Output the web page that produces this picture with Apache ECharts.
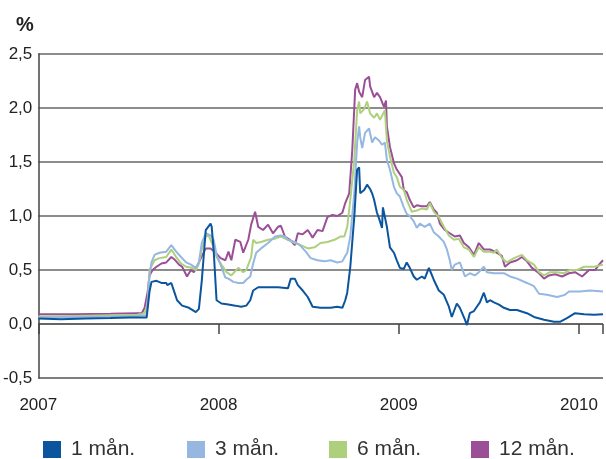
<!DOCTYPE html>
<html>
<head>
<meta charset="utf-8">
<script src="https://cdn.jsdelivr.net/npm/echarts@6/dist/echarts.min.js"></script>
<style>
  html, body { margin: 0; padding: 0; background: #fff; }
  #chart { width: 606px; height: 459px; }
</style>
</head>
<body>
<div id="chart"></div>
<script>
// x = decimal year, y = rate in %
var names = ['1 mån.', '3 mån.', '6 mån.', '12 mån.'];
var colors = ['#0a559e', '#95b7e0', '#aed07d', '#9a4f96'];

var m1 = [
  [2007.000, 0.05], [2007.126, 0.045], [2007.262, 0.05], [2007.399, 0.055], [2007.508, 0.06],
  [2007.563, 0.06], [2007.601, 0.06], [2007.617, 0.30], [2007.628, 0.39], [2007.656, 0.40],
  [2007.683, 0.38], [2007.710, 0.38], [2007.716, 0.36], [2007.738, 0.38], [2007.754, 0.30],
  [2007.770, 0.22], [2007.798, 0.17], [2007.836, 0.15], [2007.874, 0.11], [2007.891, 0.14],
  [2007.907, 0.40], [2007.929, 0.87], [2007.956, 0.93], [2007.962, 0.90], [2007.973, 0.68],
  [2007.989, 0.22], [2008.016, 0.19], [2008.055, 0.18], [2008.093, 0.17], [2008.126, 0.16],
  [2008.154, 0.17], [2008.176, 0.22], [2008.192, 0.31], [2008.220, 0.34], [2008.275, 0.34],
  [2008.330, 0.34], [2008.385, 0.33], [2008.401, 0.42], [2008.423, 0.42], [2008.440, 0.36],
  [2008.467, 0.31], [2008.495, 0.25], [2008.522, 0.16], [2008.566, 0.15], [2008.621, 0.15],
  [2008.659, 0.16], [2008.687, 0.15], [2008.703, 0.22], [2008.714, 0.29], [2008.731, 0.53],
  [2008.753, 0.99], [2008.769, 1.43], [2008.780, 1.45], [2008.786, 1.21], [2008.808, 1.24],
  [2008.824, 1.29], [2008.841, 1.25], [2008.852, 1.21], [2008.863, 1.15], [2008.879, 1.03],
  [2008.890, 0.98], [2008.907, 0.89], [2008.912, 1.08], [2008.923, 1.08], [2008.934, 0.90],
  [2008.951, 0.71], [2008.973, 0.66], [2008.989, 0.59], [2009.006, 0.52], [2009.028, 0.51],
  [2009.044, 0.57], [2009.061, 0.52], [2009.083, 0.44], [2009.100, 0.41], [2009.128, 0.44],
  [2009.144, 0.42], [2009.167, 0.52], [2009.194, 0.41], [2009.222, 0.31], [2009.250, 0.27],
  [2009.278, 0.16], [2009.294, 0.065], [2009.322, 0.19], [2009.339, 0.15], [2009.367, 0.04],
  [2009.378, -0.01], [2009.394, 0.10], [2009.417, 0.12], [2009.433, 0.16], [2009.450, 0.20],
  [2009.472, 0.29], [2009.489, 0.20], [2009.506, 0.22], [2009.528, 0.20], [2009.556, 0.18],
  [2009.583, 0.15], [2009.617, 0.13], [2009.656, 0.13], [2009.711, 0.10], [2009.750, 0.065],
  [2009.806, 0.04], [2009.861, 0.02], [2009.894, 0.02], [2009.933, 0.055], [2009.978, 0.10],
  [2010.028, 0.09], [2010.083, 0.085], [2010.133, 0.09]
];

var m3 = [
  [2007.000, 0.06], [2007.200, 0.065], [2007.400, 0.07], [2007.550, 0.075], [2007.601, 0.08],
  [2007.617, 0.45], [2007.628, 0.57], [2007.645, 0.64], [2007.672, 0.66], [2007.710, 0.67],
  [2007.738, 0.73], [2007.765, 0.67], [2007.792, 0.62], [2007.820, 0.57], [2007.847, 0.55],
  [2007.874, 0.52], [2007.891, 0.57], [2007.907, 0.75], [2007.929, 0.84], [2007.956, 0.82],
  [2007.973, 0.78], [2007.989, 0.64], [2008.011, 0.55], [2008.038, 0.43], [2008.055, 0.42],
  [2008.082, 0.39], [2008.110, 0.38], [2008.137, 0.38], [2008.154, 0.41], [2008.176, 0.44],
  [2008.192, 0.56], [2008.209, 0.66], [2008.236, 0.70], [2008.275, 0.75], [2008.313, 0.81],
  [2008.346, 0.82], [2008.368, 0.81], [2008.385, 0.78], [2008.423, 0.76], [2008.451, 0.73],
  [2008.484, 0.67], [2008.511, 0.61], [2008.549, 0.59], [2008.588, 0.58], [2008.621, 0.59],
  [2008.659, 0.57], [2008.687, 0.58], [2008.703, 0.63], [2008.714, 0.66], [2008.731, 0.81],
  [2008.753, 1.21], [2008.769, 1.68], [2008.780, 1.83], [2008.786, 1.73], [2008.797, 1.63],
  [2008.813, 1.77], [2008.835, 1.81], [2008.852, 1.68], [2008.868, 1.73], [2008.890, 1.70],
  [2008.907, 1.66], [2008.923, 1.68], [2008.934, 1.52], [2008.951, 1.43], [2008.973, 1.27],
  [2008.989, 1.21], [2009.006, 1.18], [2009.028, 1.08], [2009.044, 1.02], [2009.061, 1.00],
  [2009.083, 0.95], [2009.100, 0.89], [2009.117, 0.93], [2009.144, 0.90], [2009.172, 0.93],
  [2009.194, 0.85], [2009.222, 0.81], [2009.250, 0.76], [2009.267, 0.69], [2009.283, 0.59],
  [2009.294, 0.50], [2009.311, 0.55], [2009.339, 0.57], [2009.367, 0.44], [2009.394, 0.47],
  [2009.422, 0.45], [2009.444, 0.48], [2009.472, 0.53], [2009.489, 0.48], [2009.528, 0.47],
  [2009.561, 0.47], [2009.583, 0.47], [2009.617, 0.44], [2009.656, 0.42], [2009.711, 0.38],
  [2009.750, 0.35], [2009.778, 0.28], [2009.822, 0.27], [2009.878, 0.25], [2009.922, 0.27],
  [2009.944, 0.30], [2010.006, 0.30], [2010.061, 0.31], [2010.133, 0.30]
];

var m6 = [
  [2007.000, 0.07], [2007.200, 0.075], [2007.400, 0.08], [2007.550, 0.085], [2007.590, 0.10],
  [2007.607, 0.20], [2007.617, 0.50], [2007.645, 0.59], [2007.672, 0.61], [2007.710, 0.62],
  [2007.738, 0.69], [2007.765, 0.62], [2007.792, 0.56], [2007.820, 0.53], [2007.852, 0.52],
  [2007.874, 0.50], [2007.891, 0.56], [2007.907, 0.69], [2007.929, 0.81], [2007.945, 0.82],
  [2007.973, 0.71], [2007.989, 0.62], [2008.016, 0.55], [2008.044, 0.48], [2008.071, 0.45],
  [2008.099, 0.50], [2008.110, 0.52], [2008.137, 0.48], [2008.154, 0.50], [2008.181, 0.62],
  [2008.192, 0.78], [2008.209, 0.75], [2008.236, 0.76], [2008.275, 0.78], [2008.313, 0.79],
  [2008.346, 0.81], [2008.385, 0.78], [2008.423, 0.75], [2008.456, 0.73], [2008.495, 0.70],
  [2008.533, 0.71], [2008.566, 0.75], [2008.604, 0.76], [2008.643, 0.78], [2008.676, 0.81],
  [2008.698, 0.81], [2008.714, 0.90], [2008.731, 1.15], [2008.753, 1.52], [2008.769, 1.98],
  [2008.780, 2.06], [2008.786, 1.95], [2008.808, 1.99], [2008.824, 2.06], [2008.841, 1.95],
  [2008.863, 1.91], [2008.879, 1.95], [2008.896, 1.89], [2008.923, 1.98], [2008.934, 1.70],
  [2008.951, 1.55], [2008.973, 1.40], [2008.989, 1.36], [2009.006, 1.27], [2009.028, 1.24],
  [2009.044, 1.15], [2009.072, 1.04], [2009.100, 1.05], [2009.128, 1.07], [2009.156, 1.06],
  [2009.172, 1.12], [2009.194, 1.04], [2009.222, 0.99], [2009.250, 0.90], [2009.278, 0.82],
  [2009.306, 0.78], [2009.333, 0.79], [2009.361, 0.71], [2009.389, 0.69], [2009.417, 0.62],
  [2009.444, 0.71], [2009.472, 0.67], [2009.500, 0.67], [2009.528, 0.66], [2009.544, 0.69],
  [2009.572, 0.61], [2009.600, 0.57], [2009.639, 0.61], [2009.683, 0.64], [2009.711, 0.59],
  [2009.750, 0.55], [2009.778, 0.48], [2009.806, 0.45], [2009.839, 0.48], [2009.878, 0.48],
  [2009.917, 0.47], [2009.950, 0.50], [2009.989, 0.50], [2010.028, 0.53], [2010.083, 0.53],
  [2010.133, 0.55]
];

var m12 = [
  [2007.000, 0.09], [2007.200, 0.09], [2007.400, 0.095], [2007.550, 0.10], [2007.574, 0.10],
  [2007.590, 0.15], [2007.607, 0.30], [2007.617, 0.45], [2007.634, 0.50], [2007.656, 0.53],
  [2007.683, 0.56], [2007.710, 0.57], [2007.738, 0.62], [2007.754, 0.60], [2007.781, 0.55],
  [2007.798, 0.53], [2007.825, 0.44], [2007.847, 0.50], [2007.863, 0.48], [2007.880, 0.53],
  [2007.902, 0.61], [2007.929, 0.70], [2007.956, 0.70], [2007.984, 0.66], [2008.011, 0.61],
  [2008.038, 0.59], [2008.055, 0.67], [2008.071, 0.59], [2008.093, 0.78], [2008.121, 0.76],
  [2008.137, 0.66], [2008.165, 0.78], [2008.181, 0.92], [2008.203, 1.04], [2008.220, 0.90],
  [2008.247, 0.87], [2008.275, 0.92], [2008.302, 0.84], [2008.330, 0.90], [2008.346, 0.91],
  [2008.368, 0.81], [2008.396, 0.78], [2008.423, 0.73], [2008.440, 0.84], [2008.467, 0.83],
  [2008.495, 0.87], [2008.522, 0.80], [2008.549, 0.87], [2008.577, 0.86], [2008.604, 0.99],
  [2008.632, 1.01], [2008.659, 1.00], [2008.687, 1.03], [2008.703, 1.12], [2008.725, 1.21],
  [2008.742, 1.61], [2008.758, 2.17], [2008.769, 2.23], [2008.780, 2.15], [2008.797, 2.10],
  [2008.813, 2.26], [2008.835, 2.29], [2008.841, 2.20], [2008.863, 2.10], [2008.879, 2.14],
  [2008.896, 2.10], [2008.918, 2.01], [2008.929, 2.07], [2008.934, 1.83], [2008.951, 1.64],
  [2008.973, 1.49], [2008.989, 1.43], [2009.017, 1.36], [2009.028, 1.24], [2009.044, 1.22],
  [2009.061, 1.15], [2009.083, 1.08], [2009.100, 1.10], [2009.128, 1.09], [2009.156, 1.09],
  [2009.172, 1.13], [2009.194, 1.06], [2009.211, 1.03], [2009.228, 0.93], [2009.256, 0.87],
  [2009.283, 0.84], [2009.311, 0.81], [2009.339, 0.82], [2009.361, 0.75], [2009.389, 0.71],
  [2009.417, 0.64], [2009.444, 0.75], [2009.472, 0.69], [2009.506, 0.69], [2009.533, 0.67],
  [2009.572, 0.63], [2009.589, 0.53], [2009.617, 0.57], [2009.656, 0.59], [2009.683, 0.62],
  [2009.711, 0.58], [2009.739, 0.52], [2009.778, 0.47], [2009.806, 0.42], [2009.833, 0.45],
  [2009.867, 0.46], [2009.906, 0.44], [2009.944, 0.47], [2009.978, 0.48], [2010.017, 0.44],
  [2010.056, 0.50], [2010.089, 0.50], [2010.111, 0.55], [2010.133, 0.59]
];

var seriesData = [m1, m3, m6, m12];
var legendLeft = [43, 187, 329, 471];

var font = '"Liberation Sans", Arial, sans-serif';

function makeSeries(i) {
  return {
    name: names[i],
    type: 'line',
    data: seriesData[i],
    showSymbol: false,
    z: 10 - i,
    lineStyle: { color: colors[i], width: 2 },
    itemStyle: { color: colors[i] },
    animation: false
  };
}

var legends = names.map(function (n, i) {
  return {
    data: [n],
    left: legendLeft[i],
    top: 439,
    padding: 0,
    icon: 'rect',
    itemWidth: 18,
    itemHeight: 17,
    itemGap: 0,
    textStyle: { fontFamily: font, fontSize: 21, color: '#333', padding: [0, 0, 0, 5] },
    selectedMode: false
  };
});

var option = {
  backgroundColor: '#fff',
  animation: false,
  title: {
    text: '%',
    left: 11,
    top: 10,
    textStyle: { fontFamily: font, fontSize: 20, fontWeight: 'bold', color: '#222' }
  },
  legend: legends,
  grid: { left: 37, right: 0, top: 54, bottom: 81 },
  xAxis: {
    type: 'value',
    min: 2007,
    max: 2010.133,
    interval: 1,
    axisLine: { show: false },
    axisTick: {
      show: true,
      inside: false,
      length: 10,
      lineStyle: { color: '#444', width: 1.5 }
    },
    axisLabel: {
      fontFamily: font,
      fontSize: 17,
      color: '#222',
      margin: 19,
      formatter: function (v) {
        return Math.abs(v - Math.round(v)) < 1e-6 ? String(Math.round(v)) : '';
      }
    },
    splitLine: { show: false }
  },
  yAxis: {
    type: 'value',
    min: -0.5,
    max: 2.5,
    interval: 0.5,
    axisLine: { show: true, onZero: false, lineStyle: { color: '#444', width: 1.5 } },
    axisTick: { show: false },
    axisLabel: {
      fontFamily: font,
      fontSize: 17,
      color: '#222',
      margin: 6,
      formatter: function (v) { return v.toFixed(1).replace('.', ','); }
    },
    splitLine: {
      show: true,
      lineStyle: { color: ['#555', '#333', '#666', '#666', '#666', '#666', '#666'], width: 1.5 }
    }
  },
  series: [3, 2, 1, 0].map(makeSeries)
};

var chart = echarts.init(document.getElementById('chart'));
chart.setOption(option);
window.onresize = chart.resize;
</script>
</body>
</html>
